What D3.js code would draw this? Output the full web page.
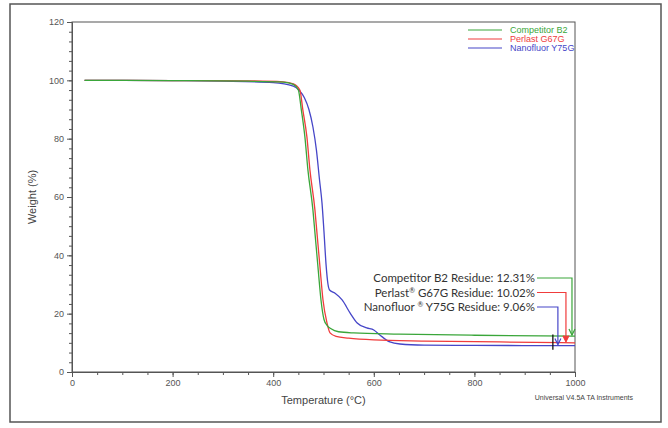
<!DOCTYPE html>
<html>
<head>
<style>
  body {
    background-color: white;
    margin: 0px;
  }
  svg text {
    font-family: "Liberation Sans", Arial, sans-serif;
  }
</style>
<script src="https://cdn.jsdelivr.net/npm/d3@7"></script>
</head>
<body>
  <svg></svg>
</body>
<script>
// series: temperature (°C) and weight (%)
const seriesNames = ["Competitor B2", "Perlast G67G", "Nanofluor Y75G"];
const seriesColors = ["#3aa63a", "#f03c3c", "#4646c8"];

const tempB2 = [25, 200, 350, 420, 440, 450, 456, 463, 469, 479, 483, 489, 495, 501, 507, 515, 530, 560, 650, 800, 1000];
const weightB2 = [100, 99.9, 99.7, 99.4, 98.6, 96.7, 89.8, 80.6, 69.3, 55.5, 47.7, 36, 24.7, 18, 16, 14.8, 13.8, 13.4, 13.0, 12.6, 12.31];

const tempG67G = [25, 200, 350, 420, 440, 453, 459, 467, 473, 483, 487, 493, 499, 507, 513, 525, 550, 600, 700, 850, 1000];
const weightG67G = [100, 99.9, 99.8, 99.5, 98.8, 96.7, 89.8, 80.6, 69.3, 55.5, 47.7, 36, 24.7, 16.8, 13.4, 12.2, 11.6, 11.0, 10.6, 10.3, 10.02];

const tempY75G = [25, 200, 300, 400, 440, 452, 462, 471, 479, 486, 492, 497, 501, 505, 509, 512, 523, 537, 553, 567, 586, 600, 612, 632, 652, 700, 800, 1000];
const weightY75G = [100, 99.9, 99.7, 99.2, 98, 96.5, 94, 90, 84, 76, 66, 58, 48, 37, 30, 28.1, 27, 24.7, 20.2, 16.8, 15.1, 14.4, 12.7, 10.3, 9.6, 9.2, 9.1, 9.06];

// residue annotations
const residueText = ["Competitor B2", "Perlast", "Nanofluor "];
const residueSuffix = [" Residue: 12.31%", " G67G Residue: 10.02%", " Y75G Residue: 9.06%"];
const residueValue = [12.31, 10.02, 9.06];
const arrowTemp = [994, 982, 966];
const markerTemp = 956;

const xTicks = [0, 200, 400, 600, 800, 1000];
const yTicks = [0, 20, 40, 60, 80, 100, 120];

const width = 668, height = 428;
const margin = {left: 72, top: 22, right: 93, bottom: 56};

const svg = d3.select("svg")
    .attr("width", width)
    .attr("height", height);

svg.append("rect")
    .attr("x", 10).attr("y", 4)
    .attr("width", 651).attr("height", 418)
    .attr("fill", "white")
    .attr("stroke", "#555")
    .attr("stroke-width", 1.5);

const x = d3.scaleLinear().domain([0, 1000]).range([margin.left, width - margin.right]);
const y = d3.scaleLinear().domain([0, 120]).range([height - margin.bottom, margin.top]);

// plot frame
svg.append("rect")
    .attr("x", x(0)).attr("y", y(120))
    .attr("width", x(1000) - x(0)).attr("height", y(0) - y(120))
    .attr("fill", "none")
    .attr("stroke", "#555");

// minor ticks
const xMinor = d3.range(0, 1001, 50);
const yMinor = d3.range(0, 121, 20 / 6);

svg.append("g")
    .attr("transform", `translate(0,${y(0)})`)
    .call(d3.axisBottom(x).tickValues(xMinor).tickSize(3).tickFormat(""))
    .call(g => g.select(".domain").remove())
    .selectAll("line").attr("stroke", "#555");

svg.append("g")
    .attr("transform", `translate(${x(0)},0)`)
    .call(d3.axisLeft(y).tickValues(yMinor).tickSize(3).tickFormat(""))
    .call(g => g.select(".domain").remove())
    .selectAll("line").attr("stroke", "#555");

const xAxis = svg.append("g")
    .attr("transform", `translate(0,${y(0)})`)
    .call(d3.axisBottom(x).tickValues(xTicks).tickFormat(d3.format("d")).tickSize(5).tickPadding(3));
const yAxis = svg.append("g")
    .attr("transform", `translate(${x(0)},0)`)
    .call(d3.axisLeft(y).tickValues(yTicks).tickFormat(d3.format("d")).tickSize(5).tickPadding(3));

[xAxis, yAxis].forEach(function(g) {
  g.select(".domain").attr("stroke", "#555");
  g.selectAll("line").attr("stroke", "#555");
  g.selectAll("text")
      .attr("fill", "#555")
      .style("font-size", "9px")
      .style("font-family", "'Liberation Sans', Arial, sans-serif");
});

// axis titles
svg.append("text")
    .attr("x", x(500)).attr("y", 404)
    .attr("text-anchor", "middle")
    .attr("fill", "#444")
    .style("font-size", "11px")
    .text("Temperature (°C)");

svg.append("text")
    .attr("transform", `translate(36,${y(60)}) rotate(-90)`)
    .attr("text-anchor", "middle")
    .attr("fill", "#444")
    .style("font-size", "11px")
    .text("Weight (%)");

svg.append("text")
    .attr("x", 633).attr("y", 400)
    .attr("text-anchor", "end")
    .attr("fill", "#444")
    .style("font-size", "7px")
    .text("Universal V4.5A TA Instruments");

// curves
const line = d3.line()
    .curve(d3.curveMonotoneX)
    .x(function(d) {return x(d[0])})
    .y(function(d) {return y(d[1])});

const allTemps = [tempB2, tempG67G, tempY75G];
const allWeights = [weightB2, weightG67G, weightY75G];

// draw blue first so red/green sit above it in the drop
[2, 1, 0].forEach(function(i) {
  const pts = allTemps[i].map(function(t, k) {return [t, allWeights[i][k]]});
  svg.append("path")
      .datum(pts)
      .attr("d", line)
      .attr("fill", "none")
      .attr("stroke", seriesColors[i])
      .attr("stroke-width", 1.3);
});

// legend
const legend = svg.append("g");
seriesNames.forEach(function(name, i) {
  const ly = 30 + i * 9;
  legend.append("line")
      .attr("x1", 468).attr("x2", 502)
      .attr("y1", ly).attr("y2", ly)
      .attr("stroke", seriesColors[i])
      .attr("stroke-width", 1.2);
  legend.append("text")
      .attr("x", 510).attr("y", ly + 3)
      .attr("fill", seriesColors[i])
      .style("font-size", "9px")
      .text(name);
});

// residue call-outs
const labelRight = 535;
const labelBase = 278;
residueText.forEach(function(name, i) {
  const ly = labelBase + i * 14.5;
  const t = svg.append("text")
      .attr("x", labelRight).attr("y", ly + 4)
      .attr("text-anchor", "end")
      .attr("fill", "#333")
      .style("font-family", "Lato, 'Open Sans', sans-serif")
      .style("font-size", "11.5px");
  t.append("tspan").text(name);
  if (i > 0) {
    t.append("tspan").attr("dy", -4).style("font-size", "7px").text("®");
    t.append("tspan").attr("dy", 4).text(residueSuffix[i]);
  } else {
    t.append("tspan").text(residueSuffix[i]);
  }

  const ax = x(arrowTemp[i]);
  const tipY = y(residueValue[i]) - 1;
  svg.append("path")
      .attr("d", `M${labelRight + 2},${ly}H${ax}V${tipY}`)
      .attr("fill", "none")
      .attr("stroke", seriesColors[i])
      .attr("stroke-width", 1.2);
  svg.append("path")
      .attr("d", `M${ax - 3},${tipY - 6}L${ax},${tipY}L${ax + 3},${tipY - 6}`)
      .attr("fill", i == 1 ? seriesColors[i] : "none")
      .attr("stroke", seriesColors[i])
      .attr("stroke-width", 1.2);
});

// black marker
svg.append("line")
    .attr("x1", x(markerTemp)).attr("x2", x(markerTemp))
    .attr("y1", y(12.9)).attr("y2", y(7.6))
    .attr("stroke", "#111")
    .attr("stroke-width", 1.3);
</script>
</html>
